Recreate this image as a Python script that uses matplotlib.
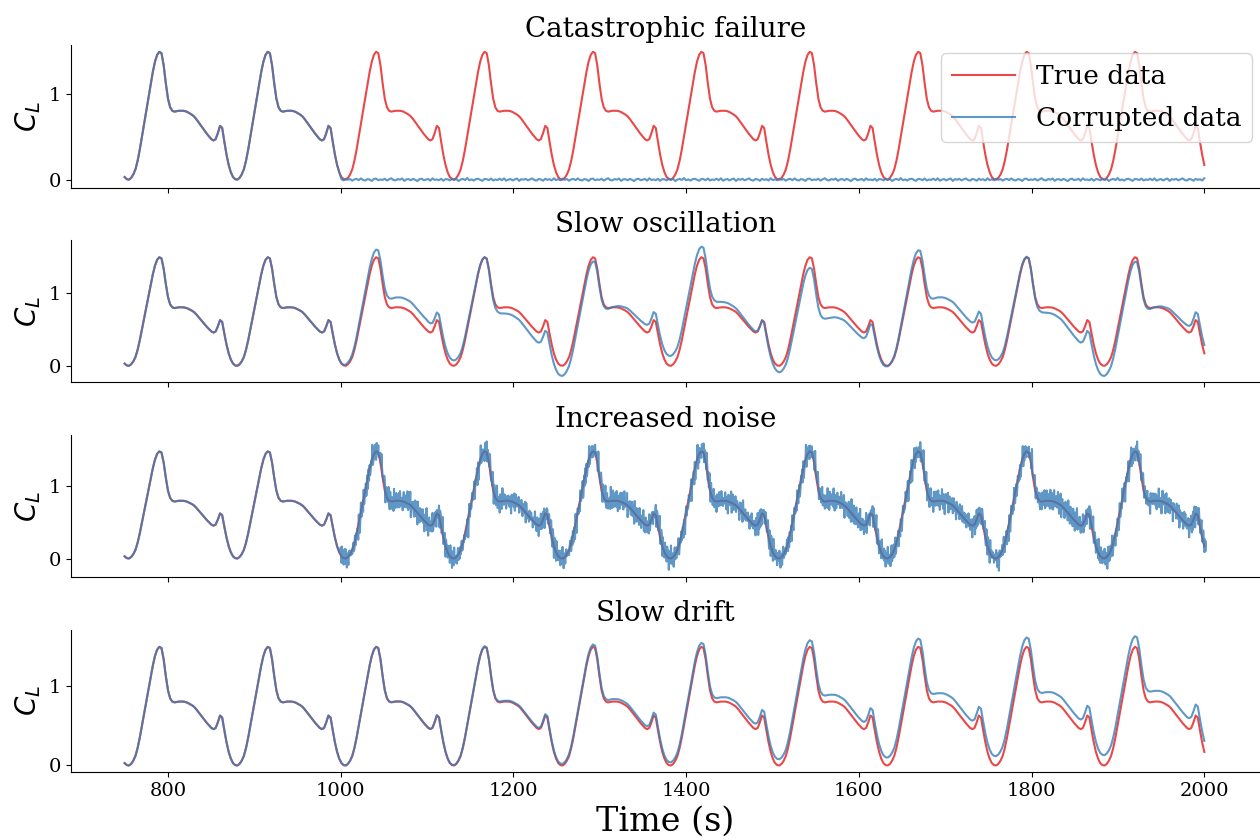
import numpy as np
import matplotlib
matplotlib.use("Agg")
import matplotlib.pyplot as plt

# ---------------- data ----------------
t_start = 750.0
t_step = 2.51
n_samples = 499
cycle_offset = 48          # phase index of the first sample
noise_substeps = 4         # noisy sensor samples per true-data sample

# one period of the true lift coefficient, sampled every t_step seconds (from a trough)
cl_cycle = [0.00, 0.02, 0.06, 0.12, 0.22, 0.35, 0.50, 0.65, 0.80, 0.95,
            1.10, 1.25, 1.37, 1.45, 1.485, 1.47, 1.33, 1.12, 0.94, 0.84,
            0.80, 0.79, 0.795, 0.80, 0.80, 0.80, 0.795, 0.785, 0.77, 0.755,
            0.735, 0.705, 0.67, 0.635, 0.60, 0.565, 0.53, 0.50, 0.47, 0.455,
            0.47, 0.54, 0.625, 0.60, 0.44, 0.29, 0.17, 0.085, 0.03, 0.005]

corruption_start = 1000.0

# slow oscillation: offset of corrupted data, read at these times
osc_t = [1000, 1041, 1064, 1100, 1108, 1133, 1167, 1187, 1227, 1237, 1258, 1293,
         1314, 1354, 1363, 1383, 1420, 1437, 1479, 1489, 1508, 1545, 1565, 1605,
         1615, 1636, 1672, 1692, 1732, 1740, 1761, 1798, 1815, 1857, 1867, 1886,
         1922, 1942, 1982, 1991, 2000]
osc_v = [0.0, 0.105, 0.135, 0.14, 0.11, 0.07, 0.0, -0.08, -0.137, -0.146, -0.137, -0.055,
         0.0, 0.105, 0.11, 0.137, 0.146, 0.08, 0.02, -0.01, -0.09, -0.146, -0.146, -0.08,
         -0.05, 0.0, 0.105, 0.137, 0.137, 0.114, 0.07, 0.0, -0.07, -0.137, -0.15, -0.137,
         -0.055, 0.0, 0.09, 0.11, 0.114]

# slow drift: offset of corrupted data, read at these times
drift_t = [1000, 1133, 1190, 1258, 1293, 1314, 1383, 1420, 1445, 1506, 1546, 1605,
           1636, 1672, 1732, 1761, 1798, 1857, 1886, 1922, 1982, 2000]
drift_v = [0.0, 0.005, 0.01, 0.02, 0.03, 0.03, 0.04, 0.05, 0.054, 0.078, 0.083, 0.09,
           0.10, 0.104, 0.106, 0.118, 0.117, 0.12, 0.13, 0.133, 0.137, 0.138]

# measurement noise (hand-read deviations)
noise_vals = [0.05, -0.08, 0.11, -0.02, 0.07, -0.12, 0.03, 0.09, -0.06, 0.14,
              -0.04, -0.10, 0.06, 0.01, -0.15, 0.08, 0.12, -0.07, 0.02, -0.03,
              0.10, -0.11, 0.04, 0.16, -0.05, -0.09, 0.07, -0.01, 0.13, -0.14,
              0.03, 0.06, -0.08, 0.09, -0.02, -0.17, 0.05, 0.11, -0.06, 0.00,
              0.08, -0.12, 0.15, -0.04, 0.02, -0.07, 0.10, -0.13, 0.06, 0.04,
              -0.09, 0.12, -0.03, 0.07, -0.16, 0.01, 0.09, -0.05, 0.18, -0.08,
              0.03, -0.11, 0.06, 0.10, -0.02, -0.14, 0.08, 0.05, -0.06, 0.13,
              -0.10, 0.02, -0.04, 0.11, -0.07, 0.15, -0.12, 0.00, 0.07, -0.09,
              0.04, 0.12, -0.15, 0.06, -0.01, 0.09, -0.08, 0.03, 0.14, -0.05,
              -0.11, 0.08, 0.02, -0.13, 0.10, -0.03, 0.05, -0.10, 0.16, -0.06]
noise_extra = [0.03, -0.02, 0.04, 0.01, -0.05, 0.02, -0.01, 0.05, -0.03, 0.00,
               0.04, -0.04, 0.02, -0.06, 0.03, 0.01, -0.02, 0.06, -0.04, 0.02,
               -0.03, 0.05, 0.00, -0.05, 0.03, -0.01, 0.04, -0.03, 0.01, 0.05,
               -0.06, 0.02, -0.02, 0.03, -0.04, 0.01, 0.04]
failure_noise_scale = 0.1
sensor_noise_scale = 0.9

titles = ["Catastrophic failure", "Slow oscillation", "Increased noise", "Slow drift"]
xticks = [800, 1000, 1200, 1400, 1600, 1800, 2000]
yticks = [0, 1]

# ---------------- build series ----------------
t = t_start + t_step * np.arange(n_samples)
reps = (n_samples + cycle_offset) // len(cl_cycle) + 1
true = np.tile(cl_cycle, reps)[cycle_offset:cycle_offset + n_samples]
after = t >= corruption_start
n_after = int(after.sum())
noise = np.tile(noise_vals, n_after // len(noise_vals) + 1)[:n_after]

corr_fail = true.copy()
corr_fail[after] = failure_noise_scale * noise

corr_osc = true.copy()
corr_osc[after] += np.interp(t[after], osc_t, osc_v)

corr_drift = true.copy()
corr_drift[after] += np.interp(t[after], drift_t, drift_v)

# increased noise: sensor sampled noise_substeps times per true sample
t_fine = t_start + (t_step / noise_substeps) * np.arange(n_samples * noise_substeps)
true_fine = np.repeat(true, noise_substeps)
after_f = t_fine >= corruption_start
nf = int(after_f.sum())
nz = (np.tile(noise_vals, nf // len(noise_vals) + 1)[:nf]
      + np.tile(noise_extra, nf // len(noise_extra) + 1)[:nf])
noisy_part = true_fine[after_f] + sensor_noise_scale * nz
corr_noise_t = np.concatenate([t[~after], t_fine[after_f]])
corr_noise = np.concatenate([true[~after], noisy_part])

corrupted = [(t, corr_fail), (t, corr_osc), (corr_noise_t, corr_noise), (t, corr_drift)]

# ---------------- plot ----------------
plt.rcParams["font.family"] = "DejaVu Serif"
plt.rcParams["mathtext.fontset"] = "dejavusans"

fig, axes = plt.subplots(4, 1, figsize=(12.6, 8.4), dpi=100, sharex=True)
fig.subplots_adjust(left=0.056, right=1.0, bottom=0.081, top=0.946, hspace=0.37)

red = "#e41a1c"
blue = "#377eb8"
for ax, title, (tc, corr) in zip(axes, titles, corrupted):
    ax.plot(t, true, color=red, alpha=0.8, lw=1.5, label="True data")
    ax.plot(tc, corr, color=blue, alpha=0.8, lw=1.5, label="Corrupted data")
    ax.set_title(title, fontsize=20)
    ax.set_ylabel("$C_L$", fontsize=20)
    ax.set_yticks(yticks)
    ax.tick_params(labelsize=14)
    ax.spines["top"].set_visible(False)
    ax.spines["right"].set_visible(False)

axes[-1].set_xticks(xticks)
axes[-1].set_xlabel("Time (s)", fontsize=24)
axes[0].legend(loc="upper right", fontsize=19, borderaxespad=0.3,
               labelspacing=0.65, handlelength=2.4)

fig.savefig("out.png", dpi=100)
